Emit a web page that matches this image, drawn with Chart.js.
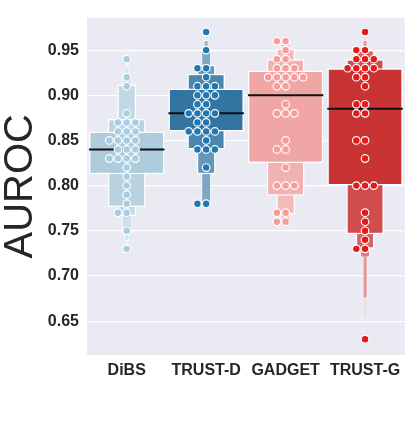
<!DOCTYPE html>
<html>
<head>
<meta charset="utf-8">
<script src="https://cdn.jsdelivr.net/npm/chart.js@4.4.1/dist/chart.umd.min.js"></script>
<style>
  html, body { margin: 0; padding: 0; background: #fff; }
  #wrap { width: 410px; height: 423px; }
</style>
</head>
<body>
<div id="wrap"><canvas id="chart"></canvas></div>
<script>
const categories = ["DiBS", "TRUST-D", "GADGET", "TRUST-G"];

// one AUROC per run, 30 runs per method
const dibs = [0.94, 0.92, 0.91, 0.88, 0.87, 0.87, 0.87, 0.86, 0.86, 0.86,
  0.85, 0.85, 0.85, 0.85, 0.84, 0.84, 0.84, 0.83, 0.83, 0.83,
  0.83, 0.82, 0.81, 0.80, 0.79, 0.78, 0.77, 0.77, 0.75, 0.73];
const trustD = [0.97, 0.95, 0.93, 0.93, 0.92, 0.91, 0.91, 0.91, 0.90, 0.90,
  0.90, 0.89, 0.89, 0.88, 0.88, 0.88, 0.88, 0.87, 0.87, 0.86,
  0.86, 0.86, 0.86, 0.85, 0.84, 0.84, 0.84, 0.82, 0.78, 0.78];
const gadget = [0.96, 0.96, 0.95, 0.94, 0.94, 0.93, 0.93, 0.93, 0.92, 0.92,
  0.92, 0.92, 0.92, 0.91, 0.91, 0.89, 0.88, 0.88, 0.88, 0.85,
  0.84, 0.84, 0.82, 0.80, 0.80, 0.80, 0.77, 0.77, 0.76, 0.76];
const trustG = [0.97, 0.95, 0.95, 0.94, 0.94, 0.94, 0.93, 0.93, 0.93, 0.93,
  0.92, 0.92, 0.91, 0.89, 0.89, 0.88, 0.88, 0.85, 0.85, 0.83,
  0.80, 0.80, 0.80, 0.77, 0.76, 0.75, 0.74, 0.73, 0.73, 0.63];

const yTicks = [0.65, 0.70, 0.75, 0.80, 0.85, 0.90, 0.95];

const groups = [dibs, trustD, gadget, trustG];
const boxColors = ["#aeccdb", "#3275a1", "#efa6a5", "#ca3334"];
const dotColors = ["#a6cee3", "#1f78b4", "#fb9a99", "#e31a1c"];
const FONT = "'Liberation Sans', Arial, sans-serif";
const nLevels = 6;

function quantile(vals, q) {
  const s = [...vals].sort((a, b) => a - b);
  const pos = q * (s.length - 1);
  const lo = Math.floor(pos), hi = Math.ceil(pos);
  return s[lo] + (s[hi] - s[lo]) * (pos - lo);
}

// lighten toward white
function mix(hex, t) {
  const n = parseInt(hex.slice(1), 16);
  const r = n >> 16, g = (n >> 8) & 255, b = n & 255;
  const f = c => Math.round(c + (255 - c) * t);
  return "rgb(" + f(r) + "," + f(g) + "," + f(b) + ")";
}

const datasets = [];

// letter-value boxes, widest (IQR) on top
for (let j = 0; j < nLevels; j++) {
  const q = Math.pow(0.5, j + 2);
  datasets.push({
    type: "bar",
    data: groups.map(g => [quantile(g, q), quantile(g, 1 - q)]),
    backgroundColor: boxColors.map(c => mix(c, 0.85 * j / 7)),
    borderColor: "#ffffff",
    borderWidth: j < 3 ? 1.5 : 0.8,
    borderSkipped: false,
    barPercentage: 0.95 / Math.pow(2, j),
    categoryPercentage: 1,
    grouped: false,
    order: 10 + j,
  });
}

// median line
datasets.push({
  type: "bar",
  data: groups.map(g => {
    const m = quantile(g, 0.5);
    return [m - 0.0011, m + 0.0011];
  }),
  backgroundColor: "#111111",
  borderWidth: 0,
  barPercentage: 0.95,
  categoryPercentage: 1,
  grouped: false,
  order: 5,
});

// swarm: equal values spread sideways 0, -1, +1, -2, +2 ...
const slots = [0, -1, 1, -2, 2, -3, 3];
const dotStep = 0.11;
groups.forEach((g, i) => {
  const seen = {};
  const pts = g.map(v => {
    const key = v.toFixed(3);
    seen[key] = (seen[key] || 0) + 1;
    return { x: i + slots[seen[key] - 1] * dotStep, y: v };
  });
  datasets.push({
    type: "scatter",
    xAxisID: "x2",
    data: pts,
    pointRadius: 3.8,
    pointBackgroundColor: dotColors[i],
    pointBorderColor: "#ffffff",
    pointBorderWidth: 1.2,
    order: 0,
  });
});

const plotBg = {
  id: "plotBg",
  beforeDraw(chart) {
    const { ctx, chartArea: a } = chart;
    ctx.save();
    ctx.fillStyle = "#eaeaf2";
    ctx.fillRect(a.left, a.top, a.right - a.left, a.bottom - a.top);
    ctx.restore();
  },
};

new Chart(document.getElementById("chart"), {
  type: "bar",
  data: { labels: categories, datasets: datasets },
  plugins: [plotBg],
  options: {
    responsive: true,
    maintainAspectRatio: false,
    animation: false,
    layout: { padding: { top: 6, right: 5, left: 0, bottom: 0 } },
    plugins: {
      legend: { display: false },
      tooltip: { enabled: false },
    },
    scales: {
      x: {
        type: "category",
        offset: true,
        grid: { display: false, drawTicks: false },
        border: { display: false },
        ticks: {
          color: "#262626",
          padding: 6,
          font: { family: FONT, size: 16, weight: "bold" },
        },
        afterFit: s => { s.height = 68; },
      },
      x2: {
        type: "linear",
        display: false,
        offset: false,
        min: -0.5,
        max: 3.5,
      },
      y: {
        min: 0.6125,
        max: 0.986,
        afterBuildTicks: s => { s.ticks = yTicks.map(v => ({ value: v })); },
        grid: { color: "#ffffff", lineWidth: 1.2, drawTicks: false },
        border: { display: false },
        ticks: {
          color: "#262626",
          padding: 8,
          font: { family: FONT, size: 16, weight: "bold" },
          callback: v => Number(v).toFixed(2),
        },
        title: {
          display: true,
          text: "AUROC",
          color: "#262626",
          padding: { top: 1, bottom: 0 },
          font: { family: FONT, size: 40, lineHeight: 1 },
        },
        afterFit: s => { s.width = 87; },
      },
    },
  },
});
</script>
</body>
</html>
